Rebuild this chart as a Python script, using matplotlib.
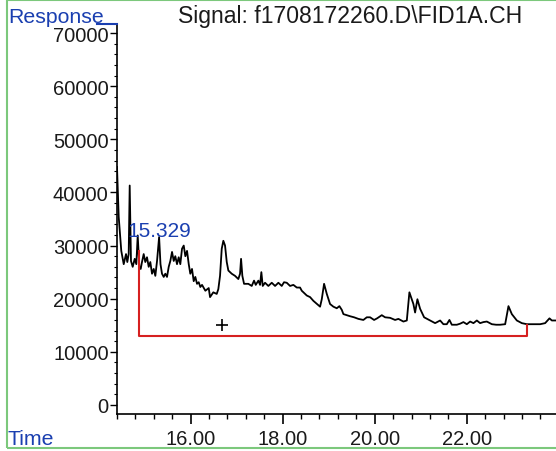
import matplotlib
matplotlib.use("Agg")
import matplotlib.pyplot as plt
from matplotlib.ticker import MultipleLocator, FormatStrFormatter
from matplotlib.lines import Line2D
from matplotlib.patches import Rectangle

plt.rcParams['font.family'] = ['Liberation Sans', 'DejaVu Sans']

title = "Signal: f1708172260.D\\FID1A.CH"
peak_label = "15.329"
peak_time = 15.329
peak_label_y = 31800

time = [14.400, 14.437, 14.493, 14.546, 14.596, 14.624, 14.654, 14.676, 14.704, 14.741,
        14.785, 14.820, 14.850, 14.885, 14.915, 14.943, 14.980, 15.015, 15.052, 15.089,
        15.124, 15.161, 15.198, 15.233, 15.270, 15.315, 15.345, 15.378, 15.415, 15.450,
        15.487, 15.524, 15.559, 15.596, 15.633, 15.667, 15.704, 15.741, 15.776, 15.813,
        15.850, 15.885, 15.922, 15.959, 15.993, 16.030, 16.067, 16.102, 16.139, 16.176,
        16.211, 16.248, 16.320, 16.393, 16.422, 16.493, 16.567, 16.602, 16.639, 16.676,
        16.711, 16.748, 16.785, 16.820, 16.893, 16.965, 17.037, 17.074, 17.096, 17.124,
        17.161, 17.254, 17.328, 17.378, 17.415, 17.472, 17.509, 17.537, 17.567, 17.617,
        17.689, 17.763, 17.835, 17.907, 17.980, 18.030, 18.089, 18.161, 18.233, 18.307,
        18.378, 18.415, 18.524, 18.596, 18.667, 18.813, 18.850, 18.900, 18.959, 19.030,
        19.102, 19.176, 19.233, 19.285, 19.320, 19.465, 19.552, 19.646, 19.754, 19.828,
        19.900, 19.987, 20.052, 20.154, 20.226, 20.335, 20.443, 20.515, 20.624, 20.698,
        20.754, 20.841, 20.878, 20.928, 20.987, 21.074, 21.204, 21.313, 21.422, 21.493,
        21.567, 21.624, 21.676, 21.785, 21.857, 21.928, 22.002, 22.074, 22.146, 22.220,
        22.291, 22.363, 22.437, 22.546, 22.639, 22.726, 22.835, 22.907, 22.980, 23.089,
        23.198, 23.307, 23.450, 23.596, 23.704, 23.798, 23.850, 23.940]
response = [44800, 35400, 29000, 26500, 28400, 26900, 28400, 41300, 27100, 26000,
            27500, 26500, 31900, 26000, 25600, 26900, 28400, 26900, 27800, 26000,
            26900, 24700, 25600, 24300, 27100, 31600, 26500, 24700, 24100, 24700,
            24100, 26000, 27100, 28800, 27100, 28000, 26500, 27800, 26500, 29400,
            30000, 28000, 29000, 26500, 24700, 25600, 23300, 24100, 22800, 23100,
            22200, 22600, 21500, 22000, 20300, 21200, 20900, 21800, 24300, 29400,
            30900, 30000, 26900, 25300, 24700, 24300, 23700, 24700, 27500, 24300,
            22800, 22800, 22400, 23400, 22600, 23400, 22600, 25000, 22400, 23000,
            22400, 23000, 22400, 23000, 22400, 23100, 23000, 22400, 22600, 22100,
            22100, 21500, 20600, 20300, 19600, 18500, 19900, 22800, 20900, 19000,
            18500, 18200, 18600, 17900, 17100, 16700, 16500, 16200, 16000, 16500,
            16500, 16000, 16300, 16900, 16500, 16400, 16000, 16200, 15700, 15900,
            21200, 19000, 17400, 19900, 18100, 16500, 15900, 15400, 15900, 15200,
            15200, 16000, 15100, 15100, 15300, 15600, 15200, 15700, 15400, 15900,
            15400, 15600, 15700, 15200, 15100, 15100, 15200, 18600, 17100, 15900,
            15400, 15200, 15200, 15200, 15400, 16300, 15900, 15900]

baseline_t = [14.885, 14.885, 23.31, 23.31]
baseline_r = [28900, 12900, 12900, 15100]
marker_t = [16.68]
marker_r = [15100]

W, H = 556, 452
fig = plt.figure(figsize=(W / 100, H / 100), dpi=100)
left, right, bottom, top = 117, 556, 415, 25
ax = fig.add_axes([left / W, 1 - bottom / H, (right - left) / W, (bottom - top) / H])

ax.plot(time, response, color='black', lw=1.3)
ax.plot(baseline_t, baseline_r, color='#d62020', lw=1.5)
ax.plot(marker_t, marker_r, marker='+', color='black', ms=9, mew=1.2, ls='none')
ax.text(peak_time, peak_label_y, peak_label, color='#1a3fb0', fontsize=15,
        ha='center', va='baseline')

ax.set_xlim(14.40, 23.94)
ax.set_ylim(-1700, 71700)
ax.spines['top'].set_visible(False)
ax.spines['right'].set_visible(False)
ax.spines['left'].set_linewidth(1.2)
ax.spines['bottom'].set_linewidth(1.2)

ax.xaxis.set_major_locator(MultipleLocator(2))
ax.xaxis.set_minor_locator(MultipleLocator(0.4))
ax.xaxis.set_major_formatter(FormatStrFormatter('%.2f'))
ax.yaxis.set_major_locator(MultipleLocator(10000))
ax.yaxis.set_minor_locator(MultipleLocator(2000))
ax.yaxis.set_major_formatter(FormatStrFormatter('%d'))
ax.tick_params(axis='x', which='major', length=7.5, width=1.2, pad=3, labelsize=14.5)
ax.tick_params(axis='x', which='minor', length=3.8, width=1.0)
ax.tick_params(axis='y', which='major', length=5, width=1.0, pad=1, labelsize=14.5)
ax.tick_params(axis='y', which='minor', length=2, width=0.8)
for lab in ax.get_xticklabels() + ax.get_yticklabels():
    lab.set_color('#1a1a1a')

blue = '#1a3fb0'
fig.text(8 / W, 1 - 23 / H, "Response", color=blue, fontsize=15.3, ha='left', va='baseline')
fig.text(8 / W, 1 - 445 / H, "Time", color=blue, fontsize=15.3, ha='left', va='baseline')
fig.text(350 / W, 1 - 23 / H, title, color='#1a1a1a', fontsize=16.6, ha='center', va='baseline')
fig.add_artist(Line2D([97 / W, 117 / W], [1 - 25 / H, 1 - 25 / H], color=blue, lw=1.5,
                      transform=fig.transFigure))
fig.add_artist(Rectangle((7 / W, 1 - 449 / H), 1.2, (449 - 1) / H, fill=False,
                         edgecolor='#7cc87c', lw=1.5, transform=fig.transFigure))

fig.savefig("out.png", dpi=100)
